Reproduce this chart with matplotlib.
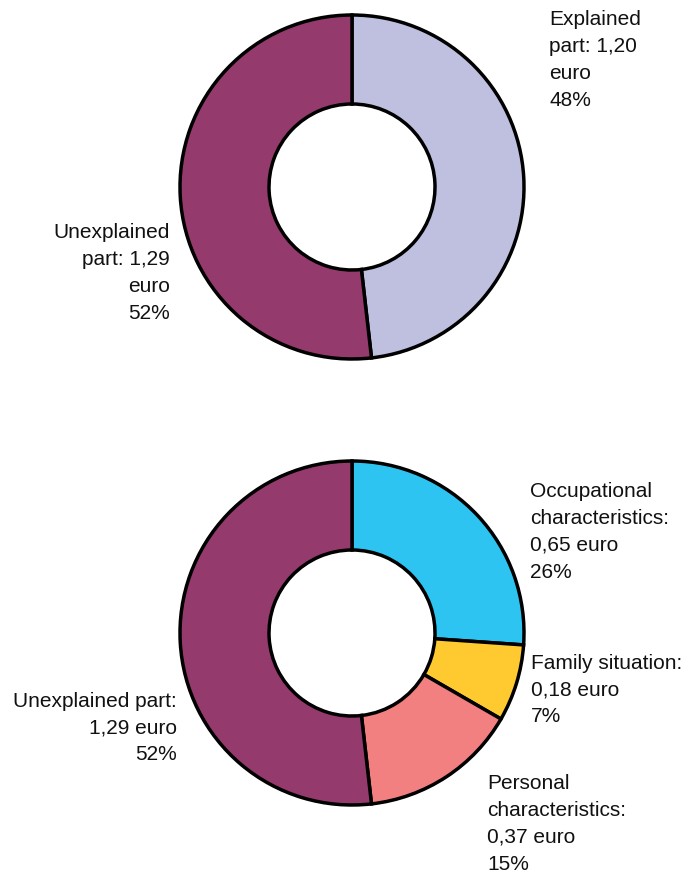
import matplotlib.pyplot as plt

plt.rcParams['font.family'] = ['Liberation Sans', 'DejaVu Sans']

# wage gap split, euro per hour
top_names = ["Explained part", "Unexplained part"]
top_values = [1.20, 1.29]
top_pct = [48, 52]

bottom_names = ["Occupational characteristics", "Family situation",
                "Personal characteristics", "Unexplained part"]
bottom_values = [0.65, 0.18, 0.37, 1.29]
bottom_pct = [26, 7, 15, 52]

top_colors = ["#BFBFE0", "#953A6C"]
bottom_colors = ["#2EC4F2", "#FFCA2F", "#F28080", "#953A6C"]

W, H = 689, 880
fig = plt.figure(figsize=(W / 100, H / 100), dpi=100)

R_OUT, R_IN = 172, 83


def donut(cx, cy, values, colors):
    ax = fig.add_axes([(cx - R_OUT) / W, 1 - (cy + R_OUT) / H,
                       2 * R_OUT / W, 2 * R_OUT / H])
    wedges, _ = ax.pie(values, colors=colors, startangle=90, counterclock=False,
                       radius=1, wedgeprops=dict(width=1 - R_IN / R_OUT,
                                                 edgecolor='black', linewidth=2.5))
    for w in wedges:
        w.set_clip_on(False)
    ax.set_xlim(-1, 1)
    ax.set_ylim(-1, 1)
    ax.set_aspect('equal')
    ax.axis('off')
    return ax


donut(352, 187, top_values, top_colors)
donut(352, 633, bottom_values, bottom_colors)


def label(x, y, txt, ha):
    fig.text(x / W, 1 - y / H, txt, ha=ha, va='center', multialignment=ha,
             fontsize=15, linespacing=1.52, color='#111111')


def fmt(v):
    return ("%.2f" % v).replace('.', ',')


label(549, 60, "Explained\npart: %s\neuro\n%d%%" % (fmt(top_values[0]), top_pct[0]), 'left')
label(170, 273, "Unexplained\npart: %s\neuro\n%d%%" % (fmt(top_values[1]), top_pct[1]), 'right')

label(530, 532, "Occupational\ncharacteristics:\n%s euro\n%d%%" % (fmt(bottom_values[0]), bottom_pct[0]), 'left')
label(531, 690, "Family situation:\n%s euro\n%d%%" % (fmt(bottom_values[1]), bottom_pct[1]), 'left')
label(487, 824, "Personal\ncharacteristics:\n%s euro\n%d%%" % (fmt(bottom_values[2]), bottom_pct[2]), 'left')
label(177, 728, "Unexplained part:\n%s euro\n%d%%" % (fmt(bottom_values[3]), bottom_pct[3]), 'right')

fig.savefig("out.png", dpi=100)
